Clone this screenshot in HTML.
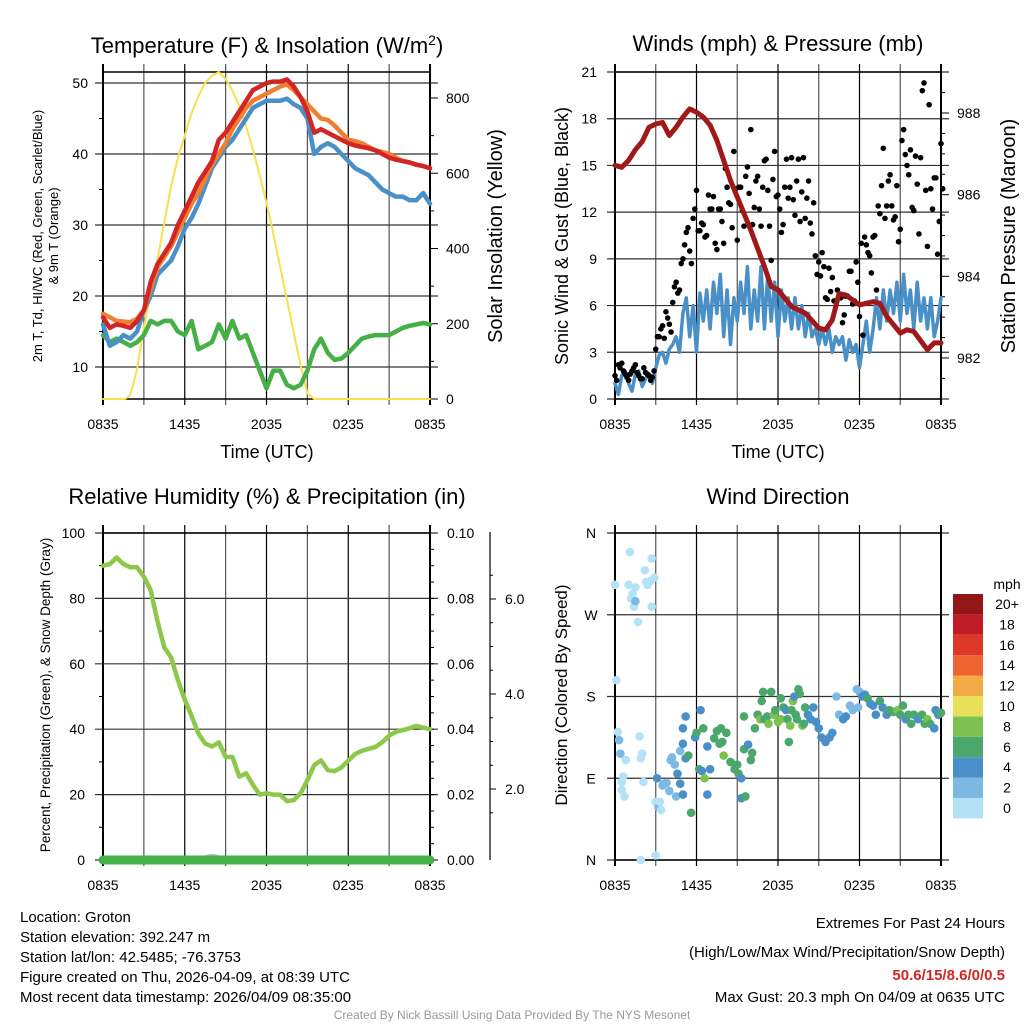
<!DOCTYPE html>
<html><head><meta charset="utf-8"><style>
html,body{margin:0;padding:0;background:#fff;}
svg{display:block;font-family:"Liberation Sans",sans-serif;}
</style></head><body>
<svg id="s" width="1024" height="1024" viewBox="0 0 1024 1024" xmlns="http://www.w3.org/2000/svg"></svg>
<script>
// ---------- DATA ----------
const xTickLabels = ["0835","1435","2035","0235","0835"];
const tHours = [0,0.5,1,1.5,2,2.5,3,3.5,4,4.5,5,5.5,6,6.5,7,7.5,8,8.5,9,9.5,10,10.5,11,11.5,12,12.5,13,13.5,14,14.5,15,15.5,16,16.5,17,17.5,18,18.5,19,19.5,20,20.5,21,21.5,22,22.5,23,23.5,24];
const tempRed = [17,15.5,16,15.8,15.5,16.5,18,22,24.5,26,27.5,30,32,34,36,37.5,39,42,43,44.5,46,47.5,49,49.5,50,50.2,50.2,50.5,49.5,48,46,43,43.5,43,42.5,42,41.5,41.2,41,40.8,40.5,40,39.5,39.2,39,38.8,38.5,38.3,38];
const temp9m = [17.5,17,16.5,16.4,16.3,16.8,18,21,24,25.5,27,29,31,33,34.5,36.5,38.5,40,41.5,43.5,45,46.5,47.5,48,48.5,49,49.5,49.8,49,48,47,46,45,44.8,44,43,42,41.8,41.5,41,40.5,40.3,40,39.5,39,38.8,38.5,38.3,38];
const tempBlue = [16,13,13.5,14.5,14,15,18,20,23,24,25,27,29.5,31,33,35.5,38,39.5,41,42,43.5,45,46.5,47,47.5,47.5,47.5,47.8,47,46.5,45,40,41,41.5,41,40,39,38,37.5,37,36,35,34.5,34,34,33.5,33.5,34.5,33];
const dewGreen = [14.5,13.5,14,13.5,13,13.5,14.5,16.5,16,16.5,16.5,15,14.5,16.5,12.5,13,13.5,16,14,16.5,14,14.5,12,9.5,7,9.5,9.5,7.5,7,7.5,9.5,12.5,14,12,11,11.2,12,13,14,14.3,14.5,14.5,14.5,15,15.5,15.8,16,16.2,16];
const solarHours = [0,1,1.6,2,2.5,3,3.5,4,4.5,5,5.5,6,6.5,7,7.5,8,8.5,9,9.5,10,10.5,11,11.5,12,12.5,13,13.5,14,14.5,15,15.5,16,24];
const solarVals = [0,0,0,10,80,190,280,370,470,566,640,700,760,805,840,859,869,850,820,779,725,663,595,521,440,352,265,175,90,15,0,0,0];
const windBlue = [1.0,0.3,1.5,1.8,1.0,0.5,1.6,1.8,0.8,1.3,1.6,1.0,2.0,2.8,3.0,2.3,3.2,3.5,4.0,3.0,5.5,6.5,4.0,6.0,3.0,6.8,5.0,7.0,4.5,7.5,5.5,8.0,4.0,7.0,3.5,6.5,5.0,7.5,5.5,8.5,4.5,7.0,5.0,8.5,4.5,8.0,5.0,7.5,4.0,7.0,5.0,6.5,4.5,6.5,4.5,6.0,4.0,5.5,4.0,4.5,3.5,4.5,3.5,4.5,3.0,4.0,3.5,4.0,2.5,3.8,3.0,3.5,2.0,3.5,5.0,3.0,4.5,6.5,4.5,7.0,5.0,7.0,5.5,7.5,5.0,8.0,5.5,7.0,4.5,7.5,5.0,6.5,4.5,6.5,4.0,5.0,6.5];
const gustA = [1.5,2.2,2.3,1.6,1.2,1.8,2.2,1.5,1.3,1.7,1.5,1.4,3.2,4.0,4.7,5.6,4.8,6.2,7.5,7.0,9.0,10.7,9.5,11.6,13.4,10.8,11.2,10.5,12.2,13.0,9.6,12.2,10.0,13.6,12.5,15.9,10.2,13.6,11.1,14.9,17.3,12.3,14.3,11.1,15.3,13.4,8.9,15.9,13.1,10.7,13.6,12.9,15.5,11.8,15.4,13.3,11.6,14.0,10.6,9.2,8.8,9.4,6.5,8.4,7.8,6.3,6.7,4.9,6.6,8.2,6.1,8.8,5.3,4.1,9.9,9.2,10.4,7.0,11.9,16.1,12.4,14.4,11.5,13.7,10.9,17.3,15.0,16.0,12.1,13.8,15.5,20.3,9.8,13.5,14.2,9.3,16.4];
const gustB = [1.2,2.0,1.8,1.4,1.6,2.0,1.7,1.3,2.0,1.6,1.2,1.8,4.0,4.5,3.9,5.2,4.3,7.2,6.8,8.7,9.9,11.0,8.7,12.2,10.8,11.3,10.4,13.1,12.2,10.0,12.2,11.4,14.8,12.6,11.0,13.5,13.6,12.1,14.3,13.2,11.2,14.0,12.2,13.6,15.4,11.1,14.1,13.0,12.2,11.2,15.4,13.6,12.8,14.0,11.4,15.5,12.9,11.3,12.6,8.0,7.9,8.5,6.4,6.9,6.3,7.0,6.5,5.4,6.6,8.2,6.3,7.5,10.0,10.4,9.4,8.1,10.5,12.4,13.7,11.6,14.0,12.4,11.7,10.1,16.6,15.7,14.4,12.3,15.6,10.6,19.8,13.4,18.9,12.2,14.2,11.4,13.5];
const presHours = [0,0.5,1,1.5,2,2.5,3,3.5,4,4.5,5,5.5,6,6.5,7,7.5,8,8.5,9,10,11,11.5,12,13,14,15,15.5,16,16.5,17,18,19,19.5,20,21,21.5,22,23,23.5,24];
const presVals = [986.72,986.67,986.84,987.1,987.3,987.65,987.73,987.77,987.45,987.65,987.9,988.1,988.02,987.9,987.7,987.33,986.84,986.35,985.94,985.13,984.24,983.75,983.67,983.26,983.1,982.73,982.69,982.93,983.58,983.54,983.3,983.38,983.34,983.02,982.61,982.69,982.65,982.2,982.37,982.37];
const rhVals = [90,90.5,92.5,90.5,89.5,89.5,86.6,82.5,73,65,62,55,49,44,38.7,35.6,34.7,36,31.5,31.5,25.5,26.5,23,20,20.4,20,20,18,18.3,20.4,24.4,29,30.5,27.5,27.2,28.3,30.4,32.4,33.4,34,34.6,36,38,39.2,39.7,40.3,41,40.5,40];
const precipVals = [0,0,0,0,0,0,0,0,0,0,0,0,0,0,0,0,0,0,0,0,0,0,0,0,0,0,0,0,0,0,0,0,0,0,0,0,0,0,0,0,0,0,0,0,0,0,0,0,0];
const rhTicks = [0,20,40,60,80,100];
const precipTicks = ["0.00","0.02","0.04","0.06","0.08","0.10"];
const snowTicks = ["2.0","4.0","6.0"];
const dirHours = [0,0.1,0.2,0.3,0.4,0.5,0.5,0.6,0.7,0.8,1.0,1.1,1.2,1.3,1.4,1.5,1.5,1.7,1.8,1.9,1.9,2.0,2.1,2.2,2.3,2.4,2.6,2.7,2.7,2.9,3.0,3.0,3.1,3.2,3.3,3.4,3.5,3.6,3.8,4.0,4.1,4.2,4.4,4.5,4.6,4.8,4.8,5.0,5.0,5.2,5.0,5.2,5.4,5.6,5.9,6.0,6.2,6.3,6.4,6.5,6.6,6.8,6.8,7.0,7.3,7.5,7.7,7.8,7.9,8.0,8.2,8.5,8.8,9.0,9.1,9.3,9.3,9.5,9.5,9.6,9.8,10.0,10.1,10.3,10.5,10.7,10.8,10.9,11.0,11.2,11.3,11.5,11.7,11.8,12.0,12.2,12.2,12.4,12.6,12.7,12.8,12.9,13.0,13.1,13.2,13.3,13.4,13.5,13.6,13.8,13.9,14.0,14.2,14.4,14.6,14.8,15.0,15.2,15.5,15.8,16.0,16.3,16.5,16.8,17.0,17.3,17.5,17.8,17.9,18.0,18.2,18.4,18.6,18.8,19.0,19.2,19.5,19.7,20.0,20.2,20.5,20.8,21.0,21.2,21.4,21.6,21.8,22.0,22.3,22.6,22.8,23.0,23.2,23.5,23.6,23.8,24.0];
const dirDeg = [303,198,141,132,117,86,77,92,70,110,303,339,288,293,279,285,300,262,136,112,0,117,86,319,306,303,307,332,279,311,5,64,90,58,64,55,82,84,85,76,110,113,105,70,95,84,120,128,72,112,145,158,115,52,135,140,100,165,98,145,90,125,72,100,134,142,128,145,130,115,140,108,100,105,95,90,68,122,158,70,127,110,118,145,160,155,175,185,155,158,150,185,160,165,152,178,155,168,165,155,130,148,165,175,180,160,155,188,183,148,150,168,160,155,168,152,145,135,130,135,140,180,160,155,158,170,165,188,168,185,180,182,178,172,170,160,175,168,160,165,163,165,160,170,155,160,150,160,155,160,150,155,150,145,165,160,162];
const dirSpeed = [0,0,1,2,2,1,0,0,0,0,0,0,0,0,0,3,0,0,0,0,0,0,0,0,0,0,0,0,0,0,0,0,4,2,1,1,2,2,2,2,2,2,2,2,4,4,2,4,4,4,4,4,6,6,4,6,6,4,5,6,8,5,4,4,6,6,6,6,6,8,7,6,6,6,6,4,4,6,6,6,4,6,6,6,6,8,6,6,6,6,8,6,8,6,8,6,8,6,4,6,6,8,6,8,4,6,6,6,6,8,6,6,4,4,4,4,4,4,4,4,4,2,2,4,4,2,2,2,2,2,4,4,6,4,4,4,6,4,4,6,6,8,6,6,4,6,6,6,4,6,6,8,6,4,4,4,6];
const speedBins = ["0","2","4","6","8","10","12","14","16","18","20+"];
const binColors = ["#b4e2f6","#7db9e3","#4a8fc7","#4ba76b","#7dc24f","#e8df5a","#f5aa48","#ee6431","#dd3727","#bf1d25","#931619"];

// ---------- DRAW ----------
const NS="http://www.w3.org/2000/svg", svg=document.getElementById('s');
function mk(tag,attrs,parent){const e=document.createElementNS(NS,tag);for(const k in attrs)e.setAttribute(k,attrs[k]);(parent||svg).appendChild(e);return e;}
function txt(str,x,y,size,anchor,rot,fill,weight){const e=mk('text',{x:x,y:y,'font-size':size,'text-anchor':anchor||'middle',fill:fill||'#000'});if(weight)e.setAttribute('font-weight',weight);if(rot)e.setAttribute('transform','rotate(-90 '+x+' '+y+')');e.textContent=str;return e;}
const X0L=103,X1L=430,X0R=615,X1R=941, TK=14;
function xs(x0,x1){return h=>x0+h*(x1-x0)/24;}
function lin(d0,d1,p0,p1){return v=>p0+(v-d0)*(p1-p0)/(d1-d0);}
function grid(x0,x1,y0,y1,hy){
  for(let i=0;i<=8;i++){const x=x0+i*(x1-x0)/8;
    const l=mk('line',{x1:x,x2:x,y1:y0-8,y2:y1+6,stroke:i%2?'#555':'#000','stroke-width':i==0||i==8?2:1.2});
    
    
  }
  hy.forEach(y=>{const l=mk('line',{x1:x0-8,x2:x1+8,y1:y,y2:y,stroke:'#333','stroke-width':1.2});
    
    });
  const f=mk('rect',{x:x0,y:y0,width:x1-x0,height:y1-y0,fill:'none',stroke:'#000','stroke-width':1.5});
  
  
  xTickLabels.forEach((t,i)=>{const e=txt(t,x0+i*(x1-x0)/4,y1+30,TK);
    
    });
}
function path(pts,attrs,name){const d=pts.map((p,i)=>(i?'L':'M')+p[0].toFixed(1)+' '+p[1].toFixed(1)).join('');const e=mk('path',Object.assign({d:d,fill:'none','stroke-linejoin':'round','stroke-linecap':'round'},attrs));
  
  return e;}

// Panel 1: temperature
(function(){
  const x=xs(X0L,X1L), y=lin(10,50,367,83), ys=lin(0,800,399,98);
  const T=[10,20,30,40,50];
  grid(X0L,X1L,72,399,T.map(y));
  T.forEach(v=>{const e=txt(v,88,y(v)+5,TK,'end');});
  [15,25,35,45].forEach(v=>mk('line',{x1:X0L-4,x2:X0L,y1:y(v),y2:y(v),stroke:'#000'}));
  [0,200,400,600,800].forEach(v=>{mk('line',{x1:X1L,x2:X1L+8,y1:ys(v),y2:ys(v),stroke:'#000'});const e=txt(v,446,ys(v)+5,TK,'start');});
  [100,300,500,700].forEach(v=>mk('line',{x1:X1L,x2:X1L+4,y1:ys(v),y2:ys(v),stroke:'#000'}));
  path(solarHours.map((h,i)=>[x(h),ys(solarVals[i])]),{stroke:'#f8e04a','stroke-width':2},'solar-line');
  path(tHours.map((h,i)=>[x(h),y(dewGreen[i])]),{stroke:'#44b045','stroke-width':4.5},'dewpoint-line');
  path(tHours.map((h,i)=>[x(h),y(tempBlue[i])]),{stroke:'#4a90c8','stroke-width':4.5},'windchill-line');
  path(tHours.map((h,i)=>[x(h),y(temp9m[i])]),{stroke:'#f07f31','stroke-width':4.5},'temp-9m-line');
  path(tHours.map((h,i)=>[x(h),y(tempRed[i])]),{stroke:'#d42525','stroke-width':4.5},'temp-2m-line');
  const t=mk('text',{x:267,y:53,'font-size':22,'text-anchor':'middle'});t.innerHTML='Temperature (F) &amp; Insolation (W/m<tspan dy="-8" font-size="14">2</tspan><tspan dy="8">)</tspan>';
  
  let e=txt('Time (UTC)',267,458,18);
  e=txt('2m T, T\u0064, HI/WC (Red, Green, Scarlet/Blue)',42,236,13,'middle',1);
  e=txt('& 9m T (Orange)',58,236,13,'middle',1);
  e=txt('Solar Insolation (Yellow)',502,236,20,'middle',1);
})();

// Panel 2: winds
(function(){
  const x=xs(X0R,X1R), y=lin(0,21,399,72), yp=lin(982,988,358,113);
  const W=[0,3,6,9,12,15,18,21];
  grid(X0R,X1R,72,399,W.map(y));
  W.forEach(v=>{const e=txt(v,597,y(v)+5,TK,'end');});
  [982,984,986,988].forEach(v=>{mk('line',{x1:X1R,x2:X1R+8,y1:yp(v),y2:yp(v),stroke:'#000'});const e=txt(v,957,yp(v)+5,TK,'start');});
  [981.5,982.5,983,983.5,984.5,985,985.5,986.5,987,987.5,988.5].forEach(v=>mk('line',{x1:X1R,x2:X1R+4,y1:yp(v),y2:yp(v),stroke:'#000'}));
  path(windBlue.map((v,i)=>[x(i*0.25),y(v)]),{stroke:'#4a90c8','stroke-width':3.5},'sonic-wind-line');
  gustA.forEach((v,i)=>{const c=mk('circle',{cx:x(i*0.25),cy:y(v),r:2.8,fill:'#000'});
    
    });
  gustB.forEach((v,i)=>{const c=mk('circle',{cx:x(i*0.25+0.125),cy:y(v),r:2.8,fill:'#000'});
    
    });
  path(presHours.map((h,i)=>[x(h),yp(presVals[i])]),{stroke:'#a01818','stroke-width':5},'pressure-line');
  let e=txt('Winds (mph) & Pressure (mb)',778,51,22);
  e=txt('Time (UTC)',778,458,18);
  e=txt('Sonic Wind & Gust (Blue, Black)',568,236,18,'middle',1);
  e=txt('Station Pressure (Maroon)',1015,236,20,'middle',1);
})();

// Panel 3: humidity
(function(){
  const x=xs(X0L,X1L), y=lin(0,100,860,533), yp=lin(0,0.1,860,533);
  grid(X0L,X1L,533,860,rhTicks.map(y));
  rhTicks.forEach(v=>{const e=txt(v,85,y(v)+5,TK,'end');});
  [10,30,50,70,90].forEach(v=>mk('line',{x1:X0L-4,x2:X0L,y1:y(v),y2:y(v),stroke:'#000'}));
  precipTicks.forEach((v,i)=>{const e=txt(v,447,yp(+v)+5,TK,'start');});
  for(let v=0.005;v<0.1;v+=0.005)mk('line',{x1:X1L,x2:X1L+4,y1:yp(v),y2:yp(v),stroke:'#000'});
  const sa=mk('line',{x1:490,x2:490,y1:532,y2:860,stroke:'#000','stroke-width':1.2});
  
  const ysn=lin(2,4,789,694);
  snowTicks.forEach(v=>{mk('line',{x1:490,x2:496,y1:ysn(+v),y2:ysn(+v),stroke:'#000'});const e=txt(v,505,ysn(+v)+5,TK,'start');});
  [1.5,2.5,3,3.5,4.5,5,5.5,6.5].forEach(v=>mk('line',{x1:490,x2:493,y1:ysn(v),y2:ysn(v),stroke:'#000'}));
  const sn=mk('ellipse',{cx:x(8),cy:859,rx:10,ry:5,fill:'#bbb'});
  path(tHours.map((h,i)=>[x(h),yp(precipVals[i])]),{stroke:'#44b045','stroke-width':9},'precip-line');
  path(tHours.map((h,i)=>[x(h),y(rhVals[i])]),{stroke:'#8cc84a','stroke-width':4.5},'rh-line');
  let e=txt('Relative Humidity (%) & Precipitation (in)',267,504,22);
  e=txt('Percent, Precipitation (Green), & Snow Depth (Gray)',50,695,13.5,'middle',1);
})();

// Panel 4: wind direction
(function(){
  const x=xs(X0R,X1R), y=lin(0,360,860,533);
  const D=[0,90,180,270,360], DL=['N','E','S','W','N'];
  grid(X0R,X1R,533,860,D.map(y));
  D.forEach((v,i)=>{const e=txt(DL[i],591,y(v)+5,TK,'middle');});
  dirHours.forEach((h,i)=>{const b=Math.min(10,Math.floor(dirSpeed[i]/2));
    const c=mk('circle',{cx:x(h),cy:y(dirDeg[i]),r:4.3,fill:binColors[b]});
    
    });
  speedBins.forEach((s,i)=>{const yy=798-i*20.4;
    const r=mk('rect',{x:953,y:yy,width:30,height:20.4,fill:binColors[i]});
    
    
    const e=txt(s,1007,yy+15,TK);});
  let e=txt('mph',1007,589,TK);
  e=txt('Wind Direction',778,504,22);
  e=txt('Direction (Colored By Speed)',567,695,17,'middle',1);
})();

// Footer
const infoLines=["Location: Groton","Station elevation: 392.247 m","Station lat/lon: 42.5485; -76.3753","Figure created on Thu, 2026-04-09, at 08:39 UTC","Most recent data timestamp: 2026/04/09 08:35:00"];
infoLines.forEach((s,i)=>{const e=txt(s,20,922+i*20,15,'start');});
let fe=txt('Extremes For Past 24 Hours',1005,928,15,'end');
fe=txt('(High/Low/Max Wind/Precipitation/Snow Depth)',1005,957,15,'end');
fe=txt('50.6/15/8.6/0/0.5',1005,980,15,'end','', '#d42525','bold');
fe=txt('Max Gust: 20.3 mph On 04/09 at 0635 UTC',1005,1002,15,'end');
fe=txt('Created By Nick Bassill Using Data Provided By The NYS Mesonet',512,1019,12,'middle','','#999');
</script>
</body></html>
